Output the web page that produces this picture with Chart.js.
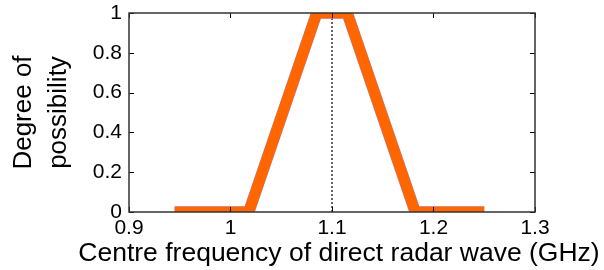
<!DOCTYPE html>
<html>
<head>
<meta charset="utf-8">
<script src="https://cdn.jsdelivr.net/npm/chart.js@4.4.0/dist/chart.umd.min.js"></script>
<style>
  html, body { margin: 0; padding: 0; background: #fff; }
  #wrap { width: 604px; height: 270px; }
</style>
</head>
<body>
<div id="wrap"><canvas id="chart"></canvas></div>
<script>
// data ------------------------------------------------------------
const freqGHz = [0.945, 1.018, 1.085, 1.115, 1.182, 1.25];
const possibility = [0, 0, 1, 1, 0, 0];
const centreX = [1.1, 1.1];
const centreY = [0, 1];
const xTicks = [0.9, 1, 1.1, 1.2, 1.3];
const yTicks = [0, 0.2, 0.4, 0.6, 0.8, 1];
const xTitle = 'Centre frequency of direct radar wave (GHz)';
const yTitle = ['Degree of', 'possibility'];

function pts(xs, ys) {
  return xs.map((x, i) => ({ x: x, y: ys[i] }));
}

// box round the plot + inward ticks (matlab look), x title is wider
// than the plot so chart.js would squash it -> draw it here
const boxPlugin = {
  id: 'box',
  afterDatasetsDraw(chart) {
    const { ctx, chartArea: a, scales } = chart;
    ctx.save();
    ctx.strokeStyle = '#000';
    ctx.lineWidth = 1;
    ctx.beginPath();
    xTicks.forEach(v => {
      const px = Math.round(scales.x.getPixelForValue(v)) + 0.5;
      ctx.moveTo(px, a.bottom); ctx.lineTo(px, a.bottom - 5);
      ctx.moveTo(px, a.top); ctx.lineTo(px, a.top + 5);
    });
    yTicks.forEach(v => {
      const py = Math.round(scales.y.getPixelForValue(v)) + 0.5;
      ctx.moveTo(a.left, py); ctx.lineTo(a.left + 5, py);
      ctx.moveTo(a.right, py); ctx.lineTo(a.right - 5, py);
    });
    ctx.stroke();
    ctx.strokeStyle = '#333';
    ctx.lineWidth = 1.5;
    ctx.strokeRect(a.left, a.top, a.right - a.left, a.bottom - a.top);

    ctx.fillStyle = '#000';
    ctx.font = '26.5px "Liberation Sans"';
    ctx.textAlign = 'center';
    ctx.textBaseline = 'alphabetic';
    ctx.fillText(xTitle, (a.left + a.right) / 2 + 7, 261);
    ctx.restore();
  }
};

// lower order is drawn on top
const data = {
  datasets: [
    {
      data: pts(centreX, centreY),
      borderColor: '#000',
      borderWidth: 1.2,
      borderDash: [2, 2],
      pointRadius: 0,
      order: 3,
      clip: 0
    },
    {
      data: pts(freqGHz, possibility),
      borderColor: '#9a9aff',
      borderWidth: 11.6,
      pointRadius: 0,
      order: 2,
      clip: 0
    },
    {
      data: pts(freqGHz, possibility),
      borderColor: '#ff6600',
      borderWidth: 11,
      borderJoinStyle: 'miter',
      pointRadius: 0,
      order: 1,
      clip: 0
    }
  ]
};

const tickFont = { family: 'Liberation Sans', size: 21 };
const titleFont = { family: 'Liberation Sans', size: 26, lineHeight: 1.35 };

const config = {
  type: 'line',
  data,
  options: {
    responsive: false,
    animation: false,
    layout: { padding: { top: 13, right: 69, left: 0, bottom: 0 } },
    plugins: { legend: { display: false }, tooltip: { enabled: false } },
    scales: {
      x: {
        type: 'linear',
        min: 0.9,
        max: 1.3,
        afterBuildTicks: (s) => { s.ticks = xTicks.map(v => ({ value: v })); },
        afterFit: (s) => { s.height = 58; s.paddingRight = 0; s.paddingLeft = 0; },
        ticks: { color: '#000', font: tickFont, padding: 4, maxRotation: 0,
                 callback: (v) => String(Math.round(v * 10) / 10) },
        grid: { display: false, drawTicks: false },
        border: { display: false }
      },
      y: {
        min: 0,
        max: 1,
        afterBuildTicks: (s) => { s.ticks = yTicks.map(v => ({ value: v })); },
        afterFit: (s) => { s.width = 129; s.paddingTop = 0; s.paddingBottom = 0; },
        ticks: { color: '#000', font: tickFont, padding: 7,
                 callback: (v) => String(Math.round(v * 10) / 10) },
        grid: { display: false, drawTicks: false },
        border: { display: false },
        title: { display: true, text: yTitle,
                 color: '#000', font: titleFont, padding: { top: 6, bottom: 0 } }
      }
    }
  },
  plugins: [boxPlugin]
};

const cv = document.getElementById('chart');
cv.width = 604;
cv.height = 270;
new Chart(cv, config);
</script>
</body>
</html>
